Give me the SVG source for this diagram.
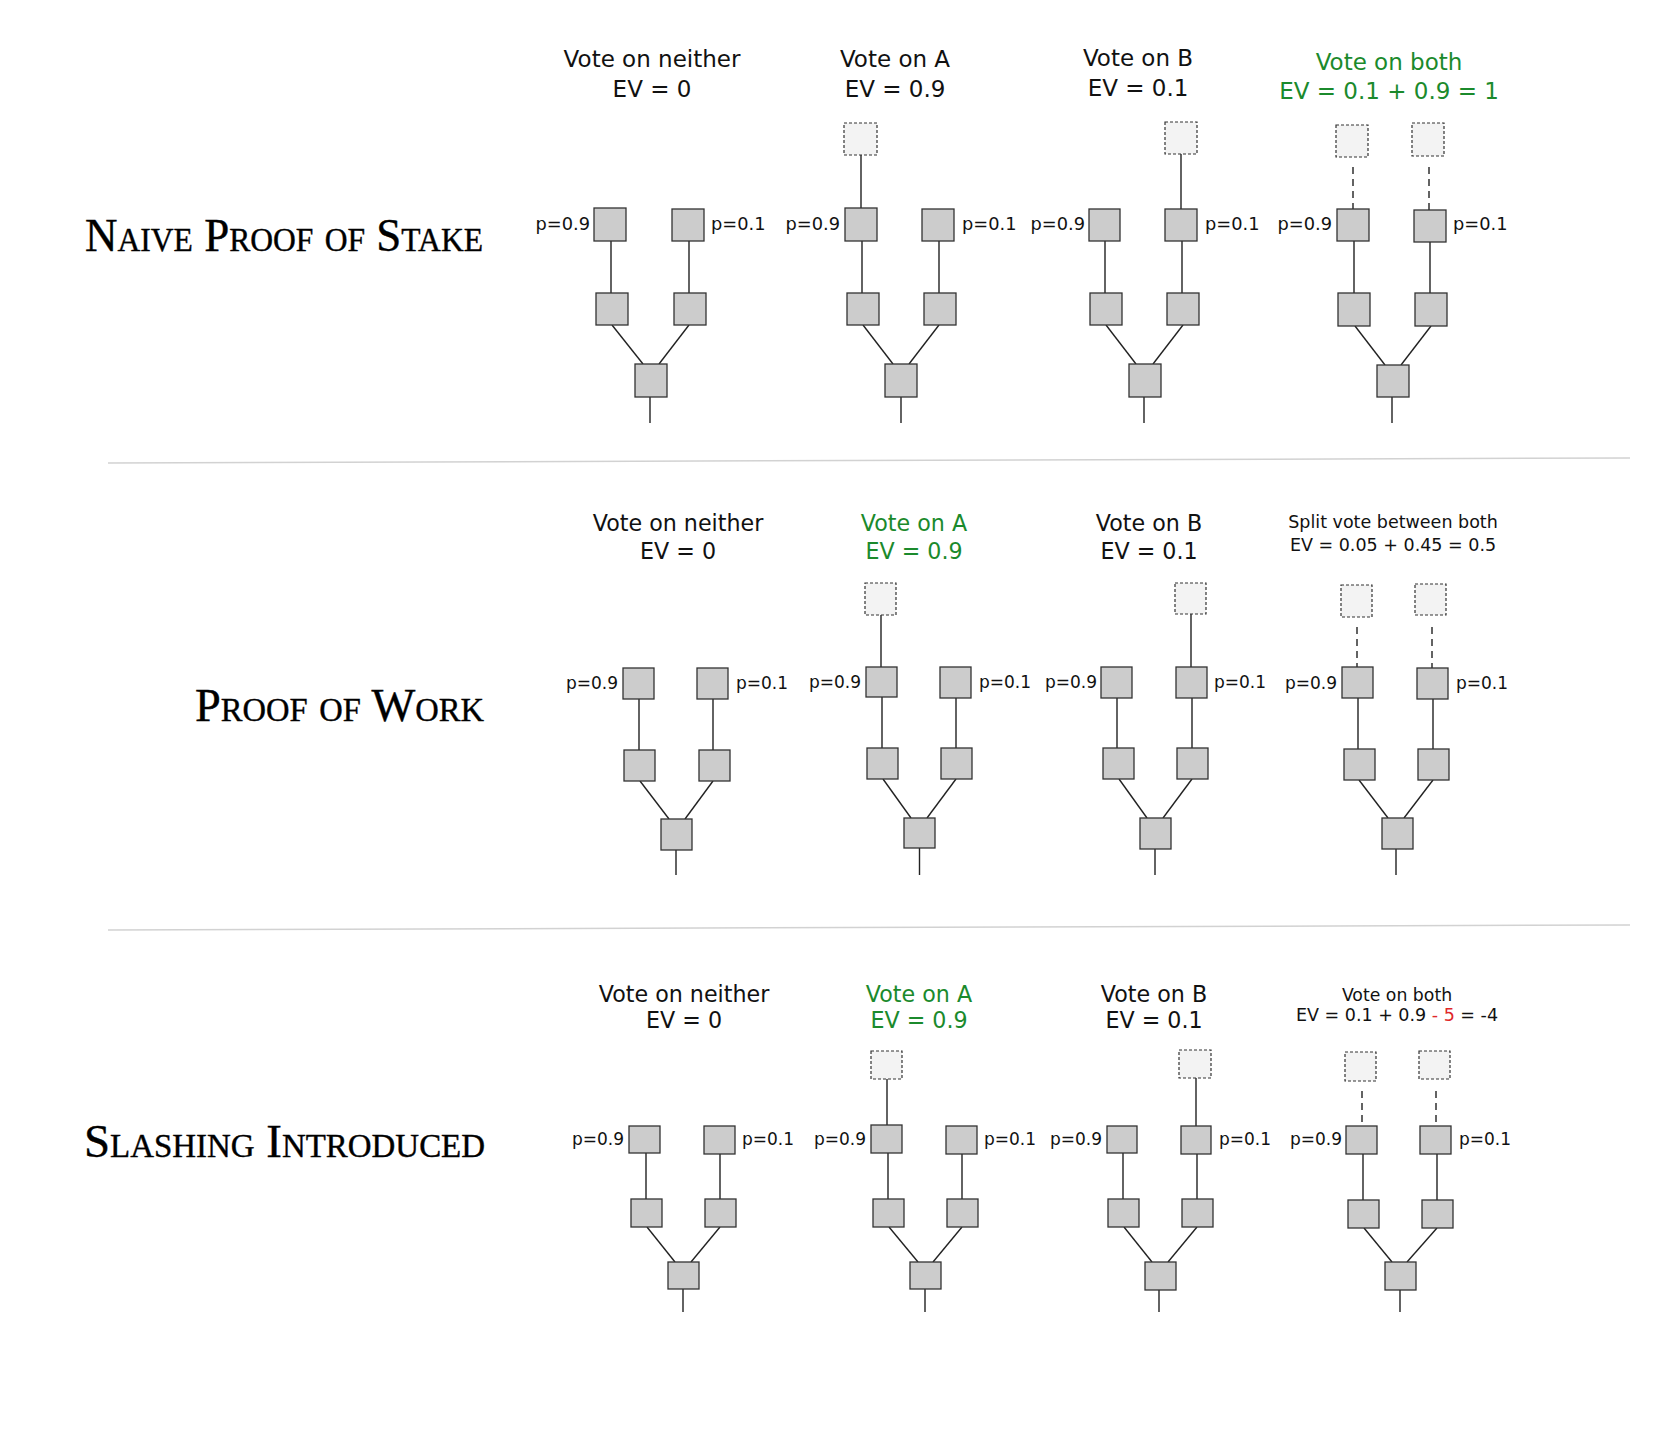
<svg xmlns="http://www.w3.org/2000/svg" width="1674" height="1440" viewBox="0 0 1674 1440">
<style>
.bg{fill:#ffffff}
.box{fill:#cccccc;stroke:#333333;stroke-width:1.3}
.ghost{fill:#f3f3f3;stroke:#333333;stroke-width:1.2;stroke-dasharray:3 2}
.ln{stroke:#222222;stroke-width:1.4;fill:none}
.dl{stroke:#222222;stroke-width:1.4;stroke-dasharray:7 5;fill:none}
.sep{stroke:#d2d2d2;stroke-width:1.5}
.lbl{font-family:"DejaVu Sans",sans-serif;font-size:17px;fill:#111111}
.r1 .lbl{font-size:17.8px}
.l9{text-anchor:end}
.hd{font-family:"DejaVu Sans",sans-serif;font-size:22.2px;fill:#111111;text-anchor:middle}
.h1{font-size:23px}
.sm{font-family:"DejaVu Sans",sans-serif;font-size:17.5px;fill:#111111;text-anchor:middle}
.green{fill:#1b8a2c}
.red{fill:#e0282a}
.ttl{font-family:"Liberation Serif","Times New Roman",serif;font-size:47px;font-variant:small-caps;fill:#000000;stroke:#000000;stroke-width:0.4}
</style>
<rect class="bg" x="0" y="0" width="1674" height="1440"/>

<g id="titles">
<text class="ttl" x="85" y="251" textLength="398" lengthAdjust="spacingAndGlyphs">Naive Proof of Stake</text>
<text class="ttl" x="195" y="721" textLength="289" lengthAdjust="spacingAndGlyphs">Proof of Work</text>
<text class="ttl" x="84" y="1157" textLength="401" lengthAdjust="spacingAndGlyphs">Slashing Introduced</text>
</g>

<g id="separators">
<line class="sep" x1="108" y1="463" x2="1630" y2="458"/>
<line class="sep" x1="108" y1="930" x2="1630" y2="925"/>
</g>

<g id="headers">
<text class="hd h1" x="652" y="67">Vote on neither</text>
<text class="hd h1" x="652" y="97">EV = 0</text>
<text class="hd h1" x="895" y="67">Vote on A</text>
<text class="hd h1" x="895" y="97">EV = 0.9</text>
<text class="hd h1" x="1138" y="66">Vote on B</text>
<text class="hd h1" x="1138" y="96">EV = 0.1</text>
<text class="hd h1 green" x="1389" y="70">Vote on both</text>
<text class="hd h1 green" x="1389" y="99">EV = 0.1 + 0.9 = 1</text>

<text class="hd" x="678" y="531">Vote on neither</text>
<text class="hd" x="678" y="559">EV = 0</text>
<text class="hd green" x="914" y="531">Vote on A</text>
<text class="hd green" x="914" y="559">EV = 0.9</text>
<text class="hd" x="1149" y="531">Vote on B</text>
<text class="hd" x="1149" y="559">EV = 0.1</text>
<text class="sm" x="1393" y="528">Split vote between both</text>
<text class="sm" x="1393" y="551">EV = 0.05 + 0.45 = 0.5</text>

<text class="hd" x="684" y="1002">Vote on neither</text>
<text class="hd" x="684" y="1028">EV = 0</text>
<text class="hd green" x="919" y="1002">Vote on A</text>
<text class="hd green" x="919" y="1028">EV = 0.9</text>
<text class="hd" x="1154" y="1002">Vote on B</text>
<text class="hd" x="1154" y="1028">EV = 0.1</text>
<text class="sm" x="1397" y="1001" style="font-size:17.3px">Vote on both</text>
<text class="sm" x="1397" y="1021">EV = 0.1 + 0.9 <tspan class="red">- 5</tspan> = -4</text>
</g>

<g id="connectors">
<!-- row 1 col 1 -->
<line class="ln" x1="611" y1="241" x2="611" y2="293"/>
<line class="ln" x1="689" y1="241" x2="689" y2="293"/>
<line class="ln" x1="612" y1="325" x2="643" y2="364"/>
<line class="ln" x1="689" y1="325" x2="659" y2="364"/>
<line class="ln" x1="650" y1="397" x2="650" y2="423"/>
<!-- row 1 col 2 -->
<line class="ln" x1="861" y1="155" x2="861" y2="208"/>
<line class="ln" x1="862" y1="241" x2="862" y2="293"/>
<line class="ln" x1="939" y1="241" x2="939" y2="293"/>
<line class="ln" x1="863" y1="325" x2="893" y2="364"/>
<line class="ln" x1="939" y1="325" x2="909" y2="364"/>
<line class="ln" x1="901" y1="397" x2="901" y2="423"/>
<!-- row 1 col 3 -->
<line class="ln" x1="1181" y1="154" x2="1181" y2="209"/>
<line class="ln" x1="1105" y1="241" x2="1105" y2="293"/>
<line class="ln" x1="1182" y1="241" x2="1182" y2="293"/>
<line class="ln" x1="1106" y1="325" x2="1136" y2="364"/>
<line class="ln" x1="1183" y1="325" x2="1153" y2="364"/>
<line class="ln" x1="1144" y1="397" x2="1144" y2="423"/>
<!-- row 1 col 4 -->
<line class="dl" x1="1353" y1="167" x2="1353" y2="209"/>
<line class="dl" x1="1429" y1="167" x2="1429" y2="210"/>
<line class="ln" x1="1354" y1="241" x2="1354" y2="293"/>
<line class="ln" x1="1430" y1="242" x2="1430" y2="293"/>
<line class="ln" x1="1355" y1="326" x2="1385" y2="365"/>
<line class="ln" x1="1431" y1="326" x2="1401" y2="365"/>
<line class="ln" x1="1392" y1="397" x2="1392" y2="423"/>

<!-- row 2 col 1 -->
<line class="ln" x1="639" y1="699" x2="639" y2="750"/>
<line class="ln" x1="713" y1="699" x2="713" y2="750"/>
<line class="ln" x1="640" y1="781" x2="669" y2="819"/>
<line class="ln" x1="713" y1="781" x2="685" y2="819"/>
<line class="ln" x1="676" y1="850" x2="676" y2="875"/>
<!-- row 2 col 2 -->
<line class="ln" x1="881" y1="615" x2="881" y2="667"/>
<line class="ln" x1="882" y1="697" x2="882" y2="748"/>
<line class="ln" x1="956" y1="698" x2="956" y2="748"/>
<line class="ln" x1="883" y1="779" x2="911" y2="818"/>
<line class="ln" x1="956" y1="779" x2="927" y2="818"/>
<line class="ln" x1="919.5" y1="848" x2="919.5" y2="875"/>
<!-- row 2 col 3 -->
<line class="ln" x1="1191" y1="614" x2="1191" y2="667"/>
<line class="ln" x1="1117" y1="698" x2="1117" y2="748"/>
<line class="ln" x1="1192" y1="698" x2="1192" y2="748"/>
<line class="ln" x1="1119" y1="779" x2="1147" y2="818"/>
<line class="ln" x1="1192" y1="779" x2="1163" y2="818"/>
<line class="ln" x1="1155" y1="849" x2="1155" y2="875"/>
<!-- row 2 col 4 -->
<line class="dl" x1="1357" y1="627" x2="1357" y2="667"/>
<line class="dl" x1="1432" y1="627" x2="1432" y2="668"/>
<line class="ln" x1="1358" y1="698" x2="1358" y2="749"/>
<line class="ln" x1="1433" y1="699" x2="1433" y2="749"/>
<line class="ln" x1="1359" y1="780" x2="1388" y2="818"/>
<line class="ln" x1="1433" y1="780" x2="1404" y2="818"/>
<line class="ln" x1="1396" y1="849" x2="1396" y2="875"/>

<!-- row 3 col 1 -->
<line class="ln" x1="646" y1="1153" x2="646" y2="1199"/>
<line class="ln" x1="720" y1="1154" x2="720" y2="1199"/>
<line class="ln" x1="647" y1="1227" x2="675" y2="1262"/>
<line class="ln" x1="720" y1="1227" x2="691" y2="1262"/>
<line class="ln" x1="683" y1="1289" x2="683" y2="1312"/>
<!-- row 3 col 2 -->
<line class="ln" x1="887" y1="1079" x2="887" y2="1125"/>
<line class="ln" x1="888" y1="1153" x2="888" y2="1199"/>
<line class="ln" x1="962" y1="1154" x2="962" y2="1199"/>
<line class="ln" x1="889" y1="1227" x2="918" y2="1262"/>
<line class="ln" x1="962" y1="1227" x2="933" y2="1262"/>
<line class="ln" x1="925" y1="1289" x2="925" y2="1312"/>
<!-- row 3 col 3 -->
<line class="ln" x1="1196" y1="1078" x2="1196" y2="1126"/>
<line class="ln" x1="1123" y1="1153" x2="1123" y2="1199"/>
<line class="ln" x1="1197" y1="1154" x2="1197" y2="1199"/>
<line class="ln" x1="1124" y1="1227" x2="1152" y2="1262"/>
<line class="ln" x1="1197" y1="1227" x2="1168" y2="1262"/>
<line class="ln" x1="1159" y1="1290" x2="1159" y2="1312"/>
<!-- row 3 col 4 -->
<line class="dl" x1="1362" y1="1091" x2="1362" y2="1126"/>
<line class="dl" x1="1436" y1="1091" x2="1436" y2="1126"/>
<line class="ln" x1="1363" y1="1154" x2="1363" y2="1200"/>
<line class="ln" x1="1437" y1="1154" x2="1437" y2="1200"/>
<line class="ln" x1="1364" y1="1228" x2="1392" y2="1262"/>
<line class="ln" x1="1437" y1="1228" x2="1407" y2="1262"/>
<line class="ln" x1="1400" y1="1290" x2="1400" y2="1312"/>
</g>

<!-- ROW 1 -->
<g class="r1">
<g id="r1c1-tl"><rect class="box" x="594" y="208" width="32" height="33"/><text class="lbl l9" x="590" y="230">p=0.9</text></g>
<g id="r1c1-tr"><rect class="box" x="672" y="209" width="32" height="32"/><text class="lbl" x="711" y="230">p=0.1</text></g>
<g id="r1c1-ml"><rect class="box" x="596" y="293" width="32" height="32"/></g>
<g id="r1c1-mr"><rect class="box" x="674" y="293" width="32" height="32"/></g>
<g id="r1c1-b"><rect class="box" x="635" y="364" width="32" height="33"/></g>

<g id="r1c2-ghost"><rect class="ghost" x="844" y="123" width="33" height="32"/></g>
<g id="r1c2-tl"><rect class="box" x="845" y="208" width="32" height="33"/><text class="lbl l9" x="840" y="230">p=0.9</text></g>
<g id="r1c2-tr"><rect class="box" x="922" y="209" width="32" height="32"/><text class="lbl" x="962" y="230">p=0.1</text></g>
<g id="r1c2-ml"><rect class="box" x="847" y="293" width="32" height="32"/></g>
<g id="r1c2-mr"><rect class="box" x="924" y="293" width="32" height="32"/></g>
<g id="r1c2-b"><rect class="box" x="885" y="364" width="32" height="33"/></g>

<g id="r1c3-ghost"><rect class="ghost" x="1165" y="122" width="32" height="32"/></g>
<g id="r1c3-tl"><rect class="box" x="1089" y="209" width="31" height="32"/><text class="lbl l9" x="1085" y="230">p=0.9</text></g>
<g id="r1c3-tr"><rect class="box" x="1165" y="209" width="32" height="32"/><text class="lbl" x="1205" y="230">p=0.1</text></g>
<g id="r1c3-ml"><rect class="box" x="1090" y="293" width="32" height="32"/></g>
<g id="r1c3-mr"><rect class="box" x="1167" y="293" width="32" height="32"/></g>
<g id="r1c3-b"><rect class="box" x="1129" y="364" width="32" height="33"/></g>

<g id="r1c4-ghost-a"><rect class="ghost" x="1336" y="125" width="32" height="32"/></g>
<g id="r1c4-ghost-b"><rect class="ghost" x="1412" y="123" width="32" height="33"/></g>
<g id="r1c4-tl"><rect class="box" x="1337" y="209" width="32" height="32"/><text class="lbl l9" x="1332" y="230">p=0.9</text></g>
<g id="r1c4-tr"><rect class="box" x="1414" y="210" width="32" height="32"/><text class="lbl" x="1453" y="230">p=0.1</text></g>
<g id="r1c4-ml"><rect class="box" x="1338" y="293" width="32" height="33"/></g>
<g id="r1c4-mr"><rect class="box" x="1415" y="293" width="32" height="33"/></g>
<g id="r1c4-b"><rect class="box" x="1377" y="365" width="32" height="32"/></g>
</g>

<!-- ROW 2 -->
<g id="r2c1-tl"><rect class="box" x="623" y="668" width="31" height="31"/><text class="lbl l9" x="618" y="689">p=0.9</text></g>
<g id="r2c1-tr"><rect class="box" x="697" y="668" width="31" height="31"/><text class="lbl" x="736" y="689">p=0.1</text></g>
<g id="r2c1-ml"><rect class="box" x="624" y="750" width="31" height="31"/></g>
<g id="r2c1-mr"><rect class="box" x="699" y="750" width="31" height="31"/></g>
<g id="r2c1-b"><rect class="box" x="661" y="819" width="31" height="31"/></g>

<g id="r2c2-ghost"><rect class="ghost" x="865" y="583" width="31" height="32"/></g>
<g id="r2c2-tl"><rect class="box" x="866" y="667" width="31" height="30"/><text class="lbl l9" x="861" y="688">p=0.9</text></g>
<g id="r2c2-tr"><rect class="box" x="940" y="667" width="31" height="31"/><text class="lbl" x="979" y="688">p=0.1</text></g>
<g id="r2c2-ml"><rect class="box" x="867" y="748" width="31" height="31"/></g>
<g id="r2c2-mr"><rect class="box" x="941" y="748" width="31" height="31"/></g>
<g id="r2c2-b"><rect class="box" x="904" y="818" width="31" height="30"/></g>

<g id="r2c3-ghost"><rect class="ghost" x="1175" y="583" width="31" height="31"/></g>
<g id="r2c3-tl"><rect class="box" x="1101" y="667" width="31" height="31"/><text class="lbl l9" x="1097" y="688">p=0.9</text></g>
<g id="r2c3-tr"><rect class="box" x="1176" y="667" width="31" height="31"/><text class="lbl" x="1214" y="688">p=0.1</text></g>
<g id="r2c3-ml"><rect class="box" x="1103" y="748" width="31" height="31"/></g>
<g id="r2c3-mr"><rect class="box" x="1177" y="748" width="31" height="31"/></g>
<g id="r2c3-b"><rect class="box" x="1140" y="818" width="31" height="31"/></g>

<g id="r2c4-ghost-a"><rect class="ghost" x="1341" y="585" width="31" height="32"/></g>
<g id="r2c4-ghost-b"><rect class="ghost" x="1415" y="584" width="31" height="31"/></g>
<g id="r2c4-tl"><rect class="box" x="1342" y="667" width="31" height="31"/><text class="lbl l9" x="1337" y="689">p=0.9</text></g>
<g id="r2c4-tr"><rect class="box" x="1417" y="668" width="31" height="31"/><text class="lbl" x="1456" y="689">p=0.1</text></g>
<g id="r2c4-ml"><rect class="box" x="1344" y="749" width="31" height="31"/></g>
<g id="r2c4-mr"><rect class="box" x="1418" y="749" width="31" height="31"/></g>
<g id="r2c4-b"><rect class="box" x="1382" y="818" width="31" height="31"/></g>

<!-- ROW 3 -->
<g id="r3c1-tl"><rect class="box" x="629" y="1126" width="31" height="27"/><text class="lbl l9" x="624" y="1145">p=0.9</text></g>
<g id="r3c1-tr"><rect class="box" x="704" y="1126" width="31" height="28"/><text class="lbl" x="742" y="1145">p=0.1</text></g>
<g id="r3c1-ml"><rect class="box" x="631" y="1199" width="31" height="28"/></g>
<g id="r3c1-mr"><rect class="box" x="705" y="1199" width="31" height="28"/></g>
<g id="r3c1-b"><rect class="box" x="668" y="1262" width="31" height="27"/></g>

<g id="r3c2-ghost"><rect class="ghost" x="871" y="1051" width="31" height="28"/></g>
<g id="r3c2-tl"><rect class="box" x="871" y="1125" width="31" height="28"/><text class="lbl l9" x="866" y="1145">p=0.9</text></g>
<g id="r3c2-tr"><rect class="box" x="946" y="1126" width="31" height="28"/><text class="lbl" x="984" y="1145">p=0.1</text></g>
<g id="r3c2-ml"><rect class="box" x="873" y="1199" width="31" height="28"/></g>
<g id="r3c2-mr"><rect class="box" x="947" y="1199" width="31" height="28"/></g>
<g id="r3c2-b"><rect class="box" x="910" y="1262" width="31" height="27"/></g>

<g id="r3c3-ghost"><rect class="ghost" x="1179" y="1050" width="32" height="28"/></g>
<g id="r3c3-tl"><rect class="box" x="1107" y="1126" width="30" height="27"/><text class="lbl l9" x="1102" y="1145">p=0.9</text></g>
<g id="r3c3-tr"><rect class="box" x="1181" y="1126" width="30" height="28"/><text class="lbl" x="1219" y="1145">p=0.1</text></g>
<g id="r3c3-ml"><rect class="box" x="1108" y="1199" width="31" height="28"/></g>
<g id="r3c3-mr"><rect class="box" x="1182" y="1199" width="31" height="28"/></g>
<g id="r3c3-b"><rect class="box" x="1145" y="1262" width="31" height="28"/></g>

<g id="r3c4-ghost-a"><rect class="ghost" x="1345" y="1052" width="31" height="29"/></g>
<g id="r3c4-ghost-b"><rect class="ghost" x="1419" y="1051" width="31" height="28"/></g>
<g id="r3c4-tl"><rect class="box" x="1346" y="1126" width="31" height="28"/><text class="lbl l9" x="1342" y="1145">p=0.9</text></g>
<g id="r3c4-tr"><rect class="box" x="1420" y="1126" width="31" height="28"/><text class="lbl" x="1459" y="1145">p=0.1</text></g>
<g id="r3c4-ml"><rect class="box" x="1348" y="1200" width="31" height="28"/></g>
<g id="r3c4-mr"><rect class="box" x="1422" y="1200" width="31" height="28"/></g>
<g id="r3c4-b"><rect class="box" x="1385" y="1262" width="31" height="28"/></g>
</svg>
